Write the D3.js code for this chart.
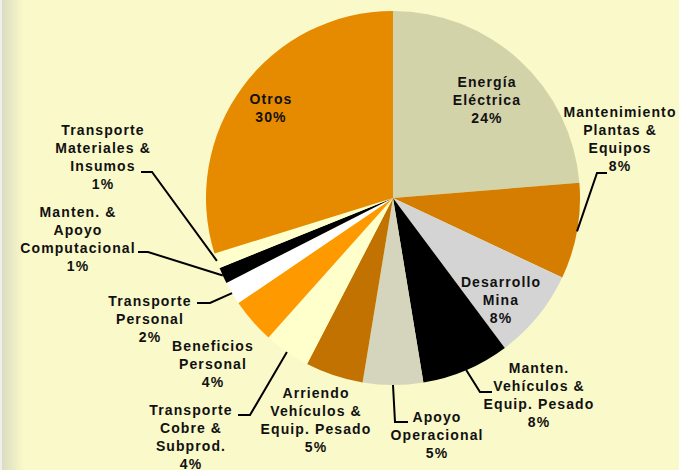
<!DOCTYPE html>
<html>
<head>
<meta charset="utf-8">
<script src="https://cdn.jsdelivr.net/npm/d3@7"></script>
<style>
  body { margin: 0; background: #faf9c9; }
  svg { display: block; }
  .lbl { font-family: "Liberation Sans", Arial, sans-serif; font-weight: bold; font-size: 14px; letter-spacing: 1.1px; fill: #111; }
</style>
</head>
<body>
<div id="chart"></div>
<script>
// slices, clockwise from 12 o'clock
var categories = [
  "Energía\nEléctrica",
  "Mantenimiento\nPlantas &\nEquipos",
  "Desarrollo\nMina",
  "Manten.\nVehículos &\nEquip. Pesado",
  "Apoyo\nOperacional",
  "Arriendo\nVehículos &\nEquip. Pesado",
  "Transporte\nCobre &\nSubprod.",
  "Beneficios\nPersonal",
  "Transporte\nPersonal",
  "Manten. &\nApoyo\nComputacional",
  "Transporte\nMateriales &\nInsumos",
  "Otros"
];
var values = [23.7, 8.3, 7.8, 7.6, 5.2, 5.0, 4.0, 3.9, 2.0, 1.4, 1.3, 29.8];
var colors = ["#d3d3a9", "#d57d00", "#d4d4d4", "#000000", "#d5d5bd", "#c27200",
              "#ffffcc", "#ff9900", "#ffffff", "#000000", "#ffffcc", "#e68a00"];

// label placement: center x, first line y, leader knee + end (null = no leader)
var labelPos = [
  {x: 487, y: 82},
  {x: 620, y: 112, knee: [597, 173], end: 607},
  {x: 501, y: 282},
  {x: 539, y: 368, knee: [480, 392], end: 492},
  {x: 437, y: 417, knee: [395, 422], end: 408},
  {x: 316, y: 393},
  {x: 191, y: 410, knee: [250, 415], end: 238},
  {x: 213, y: 346},
  {x: 150, y: 301, knee: [210, 303], end: 197},
  {x: 78,  y: 212, knee: [148, 252], end: 138},
  {x: 103, y: 130, knee: [152, 172], end: 141},
  {x: 271, y: 99}
];

var width = 679, height = 470,
    cx = 393, cy = 198, radius = 187, lineH = 18;

var svg = d3.select("#chart").append("svg")
  .attr("width", width).attr("height", height);

// left shadow strip
var grad = svg.append("defs").append("linearGradient").attr("id", "edge");
grad.append("stop").attr("offset", "0%").attr("stop-color", "#dcdcc2");
grad.append("stop").attr("offset", "100%").attr("stop-color", "#faf9c9");
svg.append("rect").attr("width", width).attr("height", height).attr("fill", "#faf9c9");
svg.append("rect").attr("x", 2).attr("width", 22).attr("height", height).attr("fill", "url(#edge)");
svg.append("rect").attr("width", 2).attr("height", height).attr("fill", "#eeeeea");

var total = d3.sum(values);
var pie = d3.pie().sort(null).value(function(d){ return d; });
var arcs = pie(values);
var arc = d3.arc().innerRadius(0).outerRadius(radius);

var g = svg.append("g").attr("transform", "translate(" + cx + "," + cy + ")");
g.selectAll("path").data(arcs).enter().append("path")
  .attr("d", arc)
  .attr("fill", function(d, i){ return colors[i]; });

// leader lines
arcs.forEach(function(d, i){
  var p = labelPos[i];
  if (!p.knee) return;
  var a = (d.startAngle + d.endAngle) / 2;
  var sx = cx + radius * Math.sin(a), sy = cy - radius * Math.cos(a);
  svg.append("polyline")
    .attr("points", [[sx, sy], p.knee, [p.end, p.knee[1]]].map(function(q){ return q.join(","); }).join(" "))
    .attr("fill", "none").attr("stroke", "#000").attr("stroke-width", 2);
});

// labels
arcs.forEach(function(d, i){
  var p = labelPos[i];
  var lines = categories[i].split("\n");
  lines.push(Math.round(values[i] / total * 100) + "%");
  var t = svg.append("text").attr("class", "lbl").attr("text-anchor", "middle");
  lines.forEach(function(s, k){
    t.append("tspan").attr("x", p.x).attr("y", p.y + k * lineH + 5).text(s);
  });
});
</script>
</body>
</html>
